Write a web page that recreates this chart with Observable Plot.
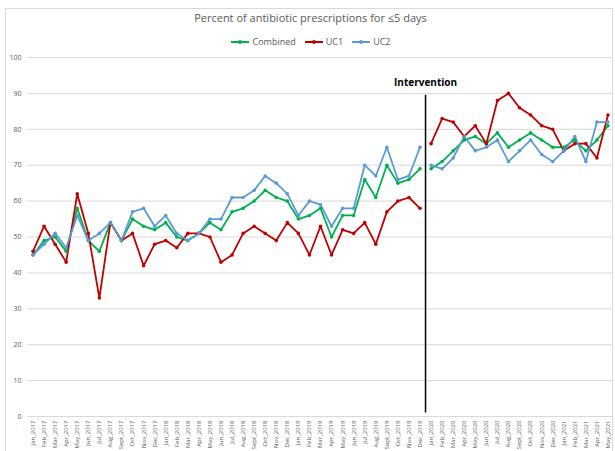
<!DOCTYPE html>
<html><head><meta charset="utf-8">
<script src="https://cdn.jsdelivr.net/npm/d3@7"></script>
<script src="https://cdn.jsdelivr.net/npm/@observablehq/plot@0.6"></script>
<style>
body{margin:0;background:#fff;font-family:"Open Sans",sans-serif}
#wrap{position:relative;width:615px;height:451px;overflow:hidden;background:#fff}
#frame{position:absolute;left:5px;top:8px;width:606px;height:470px;border:1px solid #d9d9d9}
#title{position:absolute;top:10px;left:6px;width:609px;text-align:center;font-size:11px;color:#595959}
#legend{position:absolute;top:35px;left:6px;width:609px;display:flex;justify-content:center;gap:8px;font-size:9px;color:#595959}
#legend span{display:flex;align-items:center;gap:2px}
#chart{position:absolute;top:50px;left:0}
</style></head>
<body><div id="wrap"><div id="frame"></div>
<div id="title"></div><div id="legend"></div><div id="chart"></div></div>
<script>
const titleText = "Percent of antibiotic prescriptions for ≤5 days";
const seriesNames = ["Combined", "UC1", "UC2"];
const seriesColors = ["#00b050", "#c00000", "#5b9bd5"];
const months = [
 "Jan_2017","Feb_2017","Mar_2017","Apr_2017","May_2017","Jun_2017","Jul_2017","Aug_2017","Sept_2017","Oct_2017","Nov_2017","Dec_2017",
 "Jan_2018","Feb_2018","Mar_2018","Apr_2018","May_2018","Jun_2018","Jul_2018","Aug_2018","Sept_2018","Oct_2018","Nov_2018","Dec_2018",
 "Jan_2019","Feb_2019","Mar_2019","Apr_2019","May_2019","Jun_2019","Jul_2019","Aug_2019","Sept_2019","Oct_2019","Nov_2019","Dec_2019",
 "Jan_2020","Feb_2020","Mar_2020","Apr_2020","May_2020","Jun_2020","Jul_2020","Aug_2020","Sept_2020","Oct_2020","Nov_2020","Dec_2020",
 "Jan_2021","Feb_2021","Mar_2021","Apr_2021","May_2021"];
const combined = [45,49,50,46,58,49,46,54,49,55,53,52,54,50,49,51,54,52,57,58,60,63,61,60,55,56,58,50,56,56,66,61,70,65,66,69,69,71,74,77,78,76,79,75,77,79,77,75,75,77,74,77,81];
const uc1 = [46,53,48,43,62,51,33,54,49,51,42,48,49,47,51,51,50,43,45,51,53,51,49,54,51,45,53,45,52,51,54,48,57,60,61,58,76,83,82,78,81,76,88,90,86,84,81,80,74,76,76,72,84];
const uc2 = [45,48,51,47,56,49,51,54,49,57,58,53,56,51,49,51,55,55,61,61,63,67,65,62,56,60,59,53,58,58,70,67,75,66,67,75,70,69,72,78,74,75,77,71,74,77,73,71,74,78,71,82,82];
const yTicks = [0,10,20,30,40,50,60,70,80,90,100];
const interventionLabel = "Intervention";
const interventionStart = 36; // first month after intervention (Jan_2020)
const interventionLine = {y1: 1, y2: 89.5};
const interventionLabelY = 93;

document.getElementById("title").textContent = titleText;
const leg = document.getElementById("legend");
seriesNames.forEach((n, k) => {
  const s = document.createElement("span");
  s.innerHTML = `<svg width="20" height="8"><line x1="1" y1="4" x2="19" y2="4" stroke="${seriesColors[k]}" stroke-width="2"/><circle cx="10" cy="4" r="2" fill="${seriesColors[k]}"/></svg>${n}`;
  leg.appendChild(s);
});

const values = [combined, uc1, uc2];
const data = [];
values.forEach((arr, k) => arr.forEach((v, i) => data.push({i, v, name: seriesNames[k], phase: i < interventionStart ? 0 : 1})));

const chart = Plot.plot({
  width: 615, height: 401,
  marginLeft: 27, marginRight: 2, marginTop: 7, marginBottom: 35,
  style: {fontFamily: "'Open Sans', sans-serif", background: "transparent"},
  x: {domain: [-0.5, months.length - 0.5], axis: null},
  y: {domain: [0, 100], axis: null},
  color: {domain: seriesNames, range: seriesColors},
  marks: [
    Plot.gridY(yTicks, {stroke: "#d9d9d9", strokeOpacity: 1}),
    Plot.axisY(yTicks, {tickSize: 0, tickPadding: 6, fontSize: 7, fill: "#595959", label: null}),
    Plot.axisX(d3.range(months.length), {tickSize: 0, tickPadding: 4, tickRotate: -90, tickFormat: i => months[i], fontSize: 6, fill: "#595959", label: null}),
    Plot.ruleX([interventionStart - 0.5], {y1: interventionLine.y1, y2: interventionLine.y2, stroke: "black", strokeWidth: 1.5}),
    Plot.text([interventionLabel], {x: interventionStart - 0.5, y: interventionLabelY, text: d => d, fontWeight: "bold", fontSize: 10, fill: "black"}),
    Plot.lineY(data, {x: "i", y: "v", z: d => d.name + d.phase, stroke: "name", strokeWidth: 1.8}),
    Plot.dot(data, {x: "i", y: "v", fill: "name", r: 1.8})
  ]
});
document.getElementById("chart").appendChild(chart);
</script></body></html>
